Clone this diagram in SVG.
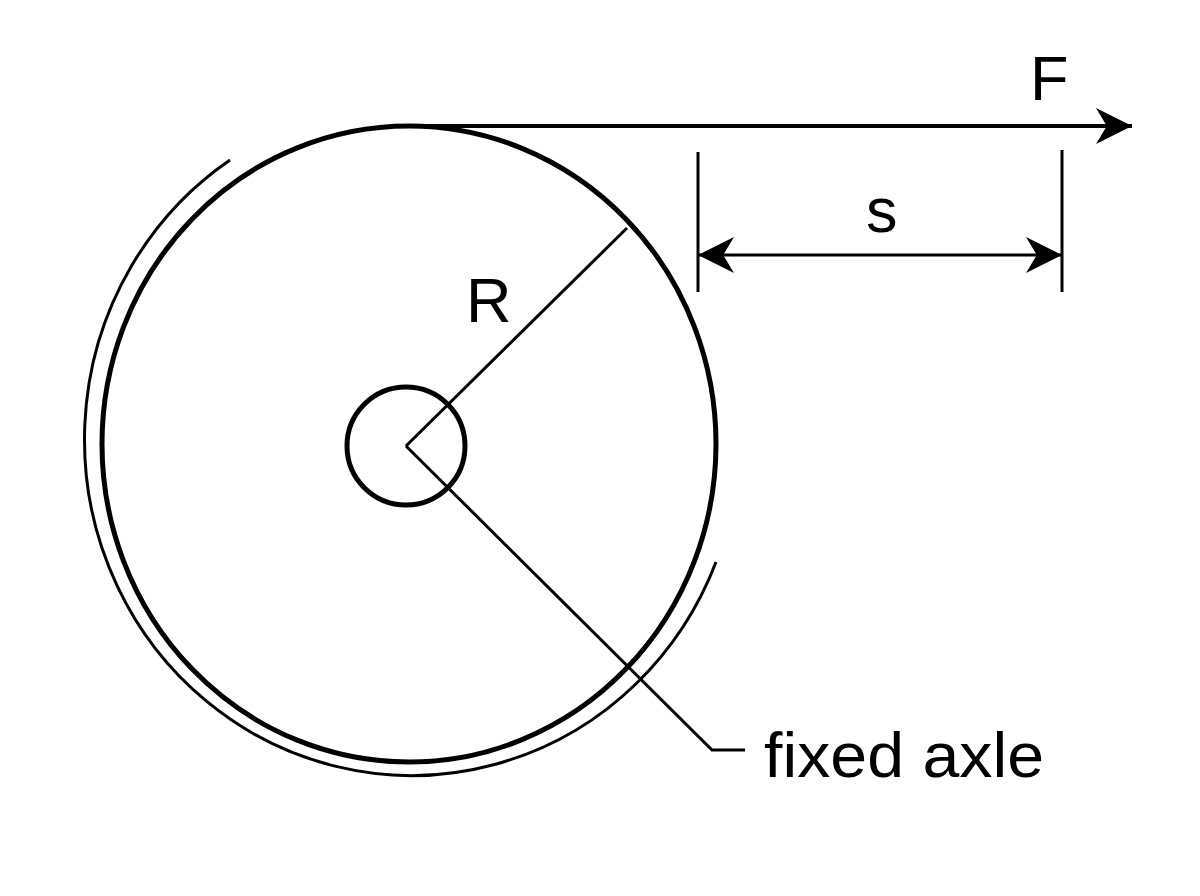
<svg xmlns="http://www.w3.org/2000/svg" width="1200" height="896" viewBox="0 0 1200 896">
<style>
.l{fill:none;stroke:#000}
.t{font-family:"Liberation Sans",Arial,sans-serif;font-size:63px;fill:#000}
</style>
<defs>
<marker id="b" viewBox="0 0 10 10" refX="10" refY="5" markerWidth="46" markerHeight="36" markerUnits="userSpaceOnUse" orient="auto-start-reverse"><path d="M0,0 L10,5 L0,10 L3,5 Z"/></marker>
</defs>
<rect width="1200" height="896" fill="#fff"/>
<g id="wheel">
<ellipse class="l" cx="409" cy="444" rx="307" ry="318" stroke-width="5"/>
</g>
<g id="axle">
<circle class="l" cx="406" cy="446" r="59" stroke-width="5"/>
</g>
<g id="guard">
<path class="l" stroke-width="3" d="M230,160 A327,336 0 1 0 716,562"/>
</g>
<g id="connectors">
<line class="l" x1="392" y1="126" x2="1132" y2="126" stroke-width="4" marker-end="url(#b)"/>
<line class="l" x1="406" y1="446" x2="627" y2="228" stroke-width="3"/>
<polyline class="l" points="406,446 712,750 745,750" stroke-width="3"/>
<line class="l" x1="698" y1="152" x2="698" y2="292" stroke-width="3"/>
<line class="l" x1="1062" y1="150" x2="1062" y2="292" stroke-width="3"/>
<line class="l" x1="698" y1="255" x2="1062" y2="255" stroke-width="3" marker-start="url(#b)" marker-end="url(#b)"/>
</g>
<g id="labels">
<text class="t" x="1030" y="100">F</text>
<text class="t" x="866" y="232">s</text>
<text class="t" x="466" y="322">R</text>
<text class="t" x="764" y="777" textLength="280" lengthAdjust="spacingAndGlyphs">fixed axle</text>
</g>
</svg>
